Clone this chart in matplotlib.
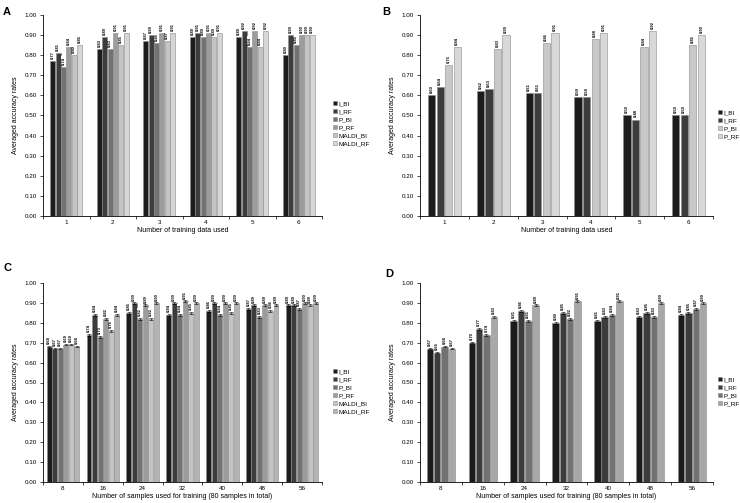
import numpy as np
import matplotlib
matplotlib.use("Agg")
import matplotlib.pyplot as plt

plt.rcParams['font.family'] = ['Liberation Sans', 'DejaVu Sans']

# ---- data ----
groups_ab = ['1', '2', '3', '4', '5', '6']
groups_cd = ['8', '16', '24', '32', '40', '48', '56']

names6 = ['I_BI', 'I_RF', 'P_BI', 'P_RF', 'MALDI_BI', 'MALDI_RF']
names4 = ['I_BI', 'I_RF', 'P_BI', 'P_RF']

# panel A
a_I_BI = [0.77, 0.83, 0.87, 0.89, 0.89, 0.80]
a_I_RF = [0.81, 0.89, 0.90, 0.91, 0.92, 0.90]
a_P_BI = [0.74, 0.83, 0.86, 0.89, 0.84, 0.85]
a_P_RF = [0.84, 0.91, 0.91, 0.91, 0.92, 0.90]
a_M_BI = [0.80, 0.85, 0.87, 0.89, 0.84, 0.90]
a_M_RF = [0.85, 0.91, 0.91, 0.91, 0.92, 0.90]

# panel B
b_I_BI = [0.60, 0.62, 0.61, 0.59, 0.50, 0.50]
b_I_RF = [0.64, 0.63, 0.61, 0.59, 0.48, 0.50]
b_P_BI = [0.75, 0.83, 0.86, 0.88, 0.84, 0.85]
b_P_RF = [0.84, 0.90, 0.91, 0.91, 0.92, 0.90]

# panel C
c_I_BI = [0.68, 0.74, 0.85, 0.84, 0.86, 0.87, 0.89]
c_I_RF = [0.67, 0.84, 0.90, 0.90, 0.90, 0.89, 0.89]
c_P_BI = [0.67, 0.73, 0.82, 0.84, 0.84, 0.83, 0.87]
c_P_RF = [0.69, 0.82, 0.89, 0.91, 0.90, 0.89, 0.90]
c_M_BI = [0.69, 0.76, 0.82, 0.85, 0.85, 0.86, 0.89]
c_M_RF = [0.68, 0.84, 0.90, 0.90, 0.90, 0.89, 0.90]

# panel D
d_I_BI = [0.67, 0.70, 0.81, 0.80, 0.81, 0.83, 0.84]
d_I_RF = [0.65, 0.77, 0.86, 0.85, 0.83, 0.85, 0.85]
d_P_BI = [0.68, 0.74, 0.81, 0.82, 0.84, 0.83, 0.87]
d_P_RF = [0.67, 0.83, 0.89, 0.91, 0.91, 0.90, 0.90]

err_cd = 0.004

W, H = 740, 503
fig = plt.figure(figsize=(W / 100, H / 100), dpi=100)


def px_axes(x0, y0, x1, y1):
    return fig.add_axes([x0 / W, 1 - y1 / H, (x1 - x0) / W, (y1 - y0) / H])


def panel(ax, cats, series, names, colors, group_w, bar_frac, xlabel, err=None,
          leg_xy=(0, 0)):
    n = len(series)
    slot = group_w / n
    x = np.arange(len(cats)) + 0.5
    for i, (vals, c) in enumerate(zip(series, colors)):
        pos = x - group_w / 2 + slot * (i + 0.5)
        ax.bar(pos, vals, width=slot * bar_frac, color=c, edgecolor='#8a8a8a',
               linewidth=0.4, label=names[i])
        if err is not None:
            ax.errorbar(pos, vals, yerr=err, fmt='none', ecolor='black',
                        elinewidth=0.4, capsize=1.2, capthick=0.4)
        for p, v in zip(pos, vals):
            ax.text(p, v + 0.012, f'{v:.2f}', rotation=90, ha='center', va='bottom',
                    fontsize=3, fontweight='bold',
                    bbox=dict(facecolor='white', edgecolor='none', pad=0.3))
    ax.set_xlim(0, len(cats))
    ax.set_ylim(0, 1.0)
    ax.set_yticks(np.arange(0, 1.01, 0.1))
    ax.set_yticklabels([f'{t:.2f}' for t in np.arange(0, 1.01, 0.1)], fontsize=4.5)
    ax.set_xticks(np.arange(len(cats) + 1))
    ax.set_xticklabels([])
    ax.set_xticks(x, minor=True)
    ax.set_xticklabels(cats, minor=True, fontsize=4.5)
    ax.tick_params(axis='x', which='minor', length=0, pad=3)
    ax.tick_params(axis='x', which='major', length=2.5, width=0.5)
    ax.tick_params(axis='y', length=2.5, width=0.5, pad=2)
    for s in ['top', 'right']:
        ax.spines[s].set_visible(False)
    for s in ['left', 'bottom']:
        ax.spines[s].set_linewidth(0.6)
    ax.set_xlabel(xlabel, fontsize=5, labelpad=1)
    ax.set_ylabel('Averaged accuracy rates', fontsize=5, labelpad=4)
    ax.legend(loc='upper left', bbox_to_anchor=(leg_xy[0] / W, 1 - leg_xy[1] / H),
              bbox_transform=fig.transFigure, frameon=False, fontsize=4.6,
              handlelength=0.6, handleheight=0.6, handletextpad=0.2,
              labelspacing=0.42, borderpad=0)


cols6 = ['#1c1c1c', '#3c3c3c', '#727272', '#9c9c9c', '#c4c4c4', '#d6d6d6']
cols6c = ['#1c1c1c', '#3c3c3c', '#727272', '#9c9c9c', '#c4c4c4', '#b4b4b4']
cols4b = ['#1c1c1c', '#3c3c3c', '#c8c8c8', '#d8d8d8']
cols4d = ['#1c1c1c', '#3c3c3c', '#727272', '#a8a8a8']

axA = px_axes(43, 15, 322, 216)
panel(axA, groups_ab, [a_I_BI, a_I_RF, a_P_BI, a_P_RF, a_M_BI, a_M_RF], names6, cols6,
      0.69, 0.92, 'Number of training data used', leg_xy=(330, 98))
axB = px_axes(420, 15, 713, 216)
panel(axB, groups_ab, [b_I_BI, b_I_RF, b_P_BI, b_P_RF], names4, cols4b,
      0.70, 0.85, 'Number of training data used', leg_xy=(715, 107))
axC = px_axes(43, 283, 322, 482)
panel(axC, groups_cd, [c_I_BI, c_I_RF, c_P_BI, c_P_RF, c_M_BI, c_M_RF], names6, cols6c,
      0.83, 0.9, 'Number of samples used for training (80 samples in total)', err=err_cd,
      leg_xy=(330, 366))
axD = px_axes(420, 283, 713, 482)
panel(axD, groups_cd, [d_I_BI, d_I_RF, d_P_BI, d_P_RF], names4, cols4d,
      0.70, 0.88, 'Number of samples used for training (80 samples in total)', err=err_cd,
      leg_xy=(715, 374))

for lab, (xx, yy) in zip('ABCD', [(3, 12), (382, 12), (3, 268), (385, 274)]):
    fig.text(xx / W, 1 - yy / H, lab, fontsize=8, fontweight='bold', va='center')

fig.savefig('out.png', dpi=100)
